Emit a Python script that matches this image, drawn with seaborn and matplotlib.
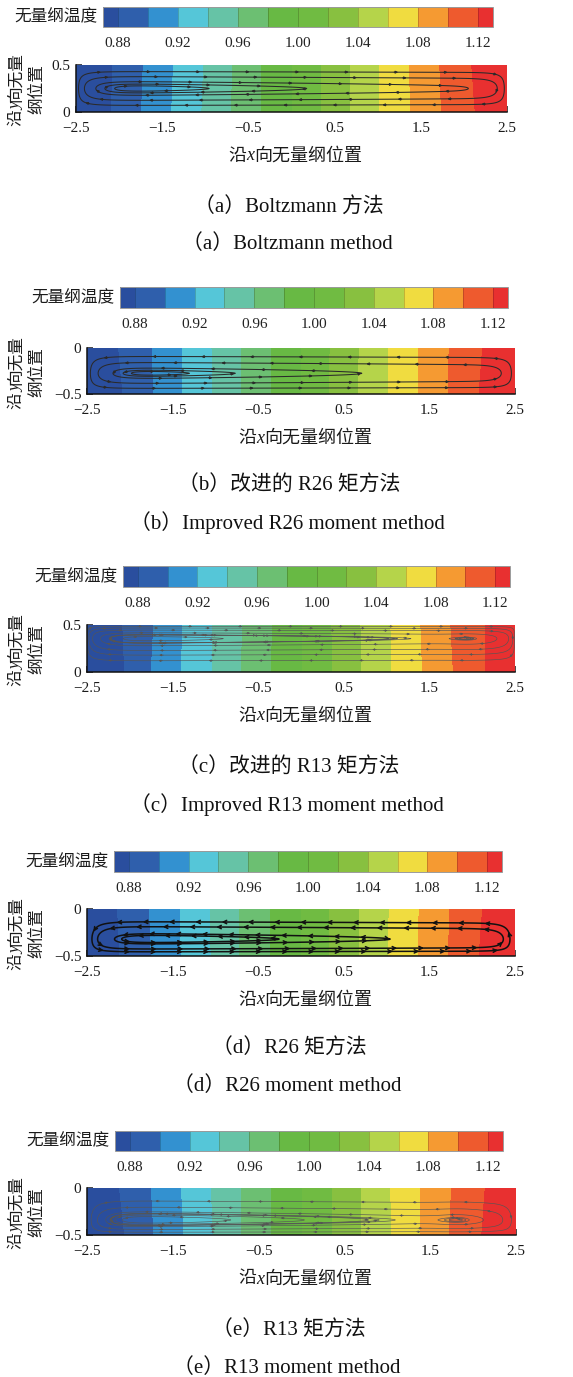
import numpy as np
import matplotlib
matplotlib.use("Agg")
import matplotlib.pyplot as plt
from matplotlib.colors import ListedColormap, BoundaryNorm
from matplotlib.cm import ScalarMappable
import seaborn as sns

sns.set_theme(style="white")
plt.rcParams["font.family"] = ["Liberation Serif", "Noto Sans CJK SC", "DejaVu Sans"]
plt.rcParams["axes.unicode_minus"] = True

CJK = ["Noto Sans CJK SC", "DejaVu Sans"]
SERIF = ["Liberation Serif", "DejaVu Serif"]

# ---------------- temperature scale ----------------
band_colors = ["#2a4e9e", "#2f5fac", "#3391d0", "#55c6d8", "#66c3a6", "#6cbf72",
               "#68b944", "#70bb42", "#88c040", "#b5d44a", "#f0dc40", "#f59a32",
               "#ee5a2e", "#e83030"]
band_bounds = [0.87, 0.88, 0.90, 0.92, 0.94, 0.96, 0.98, 1.00, 1.02, 1.04,
               1.06, 1.08, 1.10, 1.12, 1.13]
cbar_ticks = [0.88, 0.92, 0.96, 1.00, 1.04, 1.08, 1.12]
iso_levels = [0.88, 0.90, 0.92, 0.94, 0.96, 0.98, 1.00, 1.02, 1.04, 1.06, 1.08, 1.10, 1.12]
x_ticks = [-2.5, -1.5, -0.5, 0.5, 1.5, 2.5]
x_ticklabels = ["−2.5", "−1.5", "−0.5", "0.5", "1.5", "2.5"]

panels = ["a", "b", "c", "d", "e"]
y_limits = {"a": (0.0, 0.5), "b": (-0.5, 0.0), "c": (0.0, 0.5),
            "d": (-0.5, 0.0), "e": (-0.5, 0.0)}
y_ticks = {"a": [0, 0.5], "b": [-0.5, 0], "c": [0, 0.5], "d": [-0.5, 0], "e": [-0.5, 0]}
y_ticklabels = {"a": ["0", "0.5"], "b": ["−0.5", "0"], "c": ["0", "0.5"],
                "d": ["−0.5", "0"], "e": ["−0.5", "0"]}

# isotherm x positions (levels 0.88 ... 1.12) along the upper and lower edge
iso_upper = {
    "a": [-2.07, -1.72, -1.37, -1.02, -0.68, -0.35, 0.00, 0.34, 0.68, 1.02, 1.37, 1.72, 2.09],
    "b": [-2.13, -1.74, -1.39, -1.04, -0.70, -0.35, 0.00, 0.34, 0.68, 1.02, 1.37, 1.73, 2.12],
    "c": [-2.08, -1.72, -1.38, -1.03, -0.68, -0.33, 0.02, 0.36, 0.70, 1.05, 1.40, 1.75, 2.15],
    "d": [-2.14, -1.77, -1.41, -1.06, -0.72, -0.36, 0.00, 0.33, 0.68, 1.03, 1.38, 1.74, 2.12],
    "e": [-2.12, -1.75, -1.40, -1.05, -0.70, -0.35, 0.00, 0.35, 0.70, 1.04, 1.39, 1.75, 2.14],
}
iso_lower = {
    "a": [-2.09, -1.74, -1.39, -1.04, -0.70, -0.35, 0.00, 0.34, 0.68, 1.02, 1.38, 1.74, 2.13],
    "b": [-2.08, -1.72, -1.38, -1.03, -0.70, -0.35, 0.00, 0.33, 0.67, 1.02, 1.37, 1.72, 2.08],
    "c": [-2.06, -1.75, -1.40, -1.04, -0.70, -0.35, 0.02, 0.37, 0.71, 1.06, 1.42, 1.78, 2.16],
    "d": [-2.12, -1.75, -1.40, -1.05, -0.72, -0.36, 0.00, 0.33, 0.68, 1.02, 1.37, 1.72, 2.08],
    "e": [-2.06, -1.72, -1.37, -1.03, -0.70, -0.35, 0.00, 0.35, 0.70, 1.05, 1.39, 1.72, 2.10],
}

# ---------------- recirculation cell ----------------
# height of the vortex eye (fraction of the channel), streamwise decay of the cell strength
eye_height = {"a": 0.50, "b": 0.45, "c": 0.71, "d": 0.36, "e": 0.32}
cell_decay = {"a": 0.045, "b": 0.045, "c": 0.05, "d": 0.036, "e": 0.05}
cell_sense = {"a": -1, "b": 1, "c": -1, "d": 1, "e": 1}
right_eye = {"a": None, "b": None, "c": (2.0, 0.28, 0.06), "d": None, "e": (1.85, 0.28, 0.06)}
# y where each drawn streamline crosses the station x = -1.5
station_x = -1.5
crossings = {
    "a": [0.071, 0.125, 0.179, 0.205, 0.225],
    "b": [-0.438, -0.383, -0.328, -0.305, -0.29],
    "c": [0.12, 0.18, 0.23, 0.28, 0.31, 0.335],
    "d": [-0.455, -0.425, -0.37, -0.355],
    "e": [-0.47, -0.44, -0.41, -0.385, -0.37],
}
right_loops = {"c": [0.35, 0.65, 0.85], "e": [0.35, 0.65, 0.85]}
line_style = {
    "a": dict(color="#2a2a2a", lw=0.75, head=3.5, arrow="-|>", gap=48),
    "b": dict(color="#2a2a2a", lw=0.75, head=3.5, arrow="-|>", gap=48),
    "c": dict(color="#555555", lw=0.45, head=3.2, arrow="-|>", gap=50),
    "d": dict(color="#111111", lw=1.1, head=6.0, arrow="->", gap=26),
    "e": dict(color="#555555", lw=0.45, head=3.2, arrow="-|>", gap=50),
}

captions_cn = ["（a）Boltzmann 方法", "（b）改进的 R26 矩方法", "（c）改进的 R13 矩方法",
               "（d）R26 矩方法", "（e）R13 矩方法"]
captions_en = ["（a）Boltzmann method", "（b）Improved R26 moment method",
               "（c）Improved R13 moment method", "（d）R26 moment method",
               "（e）R13 moment method"]
xlabel_parts = [("沿", CJK, "normal"), ("x", SERIF, "italic"), ("向无量纲位置", CJK, "normal")]
ylabel_parts = [("沿", CJK, "normal"), ("y", SERIF, "italic"), ("向无量", CJK, "normal")]
ylabel_line2 = [("纲位置", CJK, "normal")]

# ---------------- page layout (pixels) ----------------
W, H = 573, 1377
layout = {
    "a": dict(cbar=(103, 493, 7, 27), ax=(76, 507, 65, 112), cap=(208, 244)),
    "b": dict(cbar=(120, 508, 287, 308), ax=(87, 515, 348, 394), cap=(486, 523)),
    "c": dict(cbar=(123, 510, 566, 587), ax=(87, 515, 625, 672), cap=(768, 805)),
    "d": dict(cbar=(114, 502, 851, 872), ax=(87, 515, 909, 956), cap=(1049, 1086)),
    "e": dict(cbar=(115, 503, 1131, 1151), ax=(87, 516, 1188, 1235), cap=(1331, 1368)),
}


def fbox(x0, x1, y0, y1):
    return [x0 / W, 1 - y1 / H, (x1 - x0) / W, (y1 - y0) / H]


fig = plt.figure(figsize=(W / 100, H / 100), dpi=100)
renderer = fig.canvas.get_renderer()


def text_run(parts, cx, cy, size, vertical=False, color="#1a1a1a"):
    """Write a run of differently styled pieces centred on (cx, cy) in pixels."""
    widths = []
    for txt, fam, sty in parts:
        t = fig.text(0, 0, txt, fontsize=size, family=fam, style=sty)
        widths.append(t.get_window_extent(renderer).width)
        t.remove()
    total = sum(widths)
    off = 0.36 * size * 100 / 72
    pos = 0.0
    for (txt, fam, sty), w in zip(parts, widths):
        if vertical:
            fx = (cx + off) / W
            fy = 1 - (cy + total / 2 - pos) / H
            fig.text(fx, fy, txt, fontsize=size, family=fam, style=sty, color=color,
                     rotation=90, rotation_mode="anchor", ha="left", va="baseline")
        else:
            fx = (cx - total / 2 + pos) / W
            fy = 1 - (cy + off) / H
            fig.text(fx, fy, txt, fontsize=size, family=fam, style=sty, color=color,
                     ha="left", va="baseline")
        pos += w


def add_flow_arrows(ax, path_xy, xg, yg, u, v, st):
    """Place small arrowheads along a streamline, oriented with the flow."""
    disp = ax.transData.transform(path_xy)
    seg = np.hypot(*np.diff(disp, axis=0).T)
    cum = np.r_[0, np.cumsum(seg)]
    total = cum[-1]
    if total < 25:
        return
    n = max(1, int(total // st["gap"]))
    targets = (np.arange(n) + 0.5) * total / n
    for t in targets:
        pa = np.array([np.interp(t - 2.0, cum, path_xy[:, 0]), np.interp(t - 2.0, cum, path_xy[:, 1])])
        pb = np.array([np.interp(t + 2.0, cum, path_xy[:, 0]), np.interp(t + 2.0, cum, path_xy[:, 1])])
        ix = int(np.argmin(np.abs(xg - pa[0])))
        iy = int(np.argmin(np.abs(yg - pa[1])))
        vel = np.array([u[iy, ix], v[iy, ix]])
        if np.dot(pb - pa, vel) < 0:
            pa, pb = pb, pa
        ax.annotate("", xy=pb, xytext=pa,
                    arrowprops=dict(arrowstyle=st["arrow"], color=st["color"],
                                    lw=st["lw"], mutation_scale=st["head"],
                                    shrinkA=0, shrinkB=0),
                    zorder=4, annotation_clip=False)


cmap = ListedColormap(sns.color_palette(band_colors))
norm = BoundaryNorm(band_bounds, cmap.N)

xg = np.linspace(-2.5, 2.5, 601)

for i, key in enumerate(panels):
    lay = layout[key]
    y0, y1 = y_limits[key]
    hgt = y1 - y0
    yg = np.linspace(y0, y1, 201)

    # temperature field from isotherm positions
    up = np.array(iso_upper[key])
    lo = np.array(iso_lower[key])
    T = np.empty((yg.size, xg.size))
    for j, yy in enumerate(yg):
        f = (yy - y0) / hgt
        pos = lo + f * (up - lo)
        T[j] = np.interp(xg, np.r_[-2.5, pos, 2.5], np.r_[0.8705, iso_levels, 1.1295])

    # colour bar
    cax = fig.add_axes(fbox(*lay["cbar"]))
    cb = fig.colorbar(ScalarMappable(norm=norm, cmap=cmap), cax=cax,
                      orientation="horizontal", spacing="proportional",
                      ticks=cbar_ticks, drawedges=True)
    cb.ax.minorticks_off()
    cb.ax.set_xticks(cbar_ticks)
    cb.ax.set_xticklabels([f"{t:.2f}" for t in cbar_ticks])
    cb.ax.tick_params(which="both", length=0, width=0, pad=7, labelsize=11,
                      colors="#222222")
    cb.outline.set_edgecolor("#9a9a9a")
    cb.outline.set_linewidth(0.7)
    cb.dividers.set_color((0, 0, 0, 0.22))
    cb.dividers.set_linewidth(0.6)
    cx0, cx1, cy0, cy1 = lay["cbar"]
    fig.text((cx0 - 6) / W, 1 - (cy0 + cy1) / 2 / H, "无量纲温度", ha="right",
             va="center", fontsize=12, family=CJK, color="#1a1a1a")

    # field plot
    ax = fig.add_axes(fbox(*lay["ax"]))
    ax.contourf(xg, yg, T, levels=band_bounds, cmap=cmap, norm=norm, zorder=1)
    ax.set_xlim(-2.5, 2.5)
    ax.set_ylim(y0, y1)

    # stream function of the recirculation cell
    s = np.clip((yg - y0) / hgt, 1e-9, 1.0)
    p = np.log(0.5) / np.log(eye_height[key])
    g = np.sin(np.pi * s ** p) ** 2
    k = cell_decay[key]
    E = (1 - np.exp(-(xg + 2.5) / 0.15)) * (1 - np.exp(-(2.5 - xg) / 0.12)) * (1 - k * (xg + 2.5))
    if right_eye[key] is not None:
        xb, wb, ab = right_eye[key]
        E = E + ab * np.exp(-((xg - xb) / wb) ** 2) * (1 - np.exp(-(2.5 - xg) / 0.12))
    E = E / E.max()
    psi = E[None, :] * g[:, None]
    u = cell_sense[key] * np.gradient(psi, yg, axis=0)
    v = -cell_sense[key] * np.gradient(psi, xg, axis=1)

    e_st = np.interp(station_x, xg, E)
    levels = [e_st * float(np.interp(yc, yg, g)) for yc in crossings[key]]
    if key in right_loops:
        xb = right_eye[key][0]
        sel = (xg > xb - 0.6) & (xg < xb + 0.4)
        emax = E[sel].max()
        emin = E[(xg > 0.0) & (xg < xb)].min()
        levels += [emin + fr * (emax - emin) for fr in right_loops[key]]
    levels = sorted(set(round(lv, 5) for lv in levels))

    st = line_style[key]
    cs = ax.contour(xg, yg, psi, levels=levels, colors=st["color"],
                    linewidths=st["lw"], zorder=3)
    for path in cs.get_paths():
        for poly in path.to_polygons(closed_only=False):
            if len(poly) > 3:
                add_flow_arrows(ax, poly, xg, yg, u, v, st)

    ax.set_xticks(x_ticks)
    ax.set_yticks(y_ticks[key])
    ax.set_xticklabels(x_ticklabels)
    ax.set_yticklabels(y_ticklabels[key])
    ax.tick_params(axis="x", direction="in", length=4, width=1.1, pad=7,
                   labelsize=11, colors="#1a1a1a", bottom=True, top=False)
    ax.tick_params(axis="y", direction="in", length=4, width=1.1, pad=4,
                   labelsize=11, colors="#1a1a1a", left=True, right=False)
    for side in ("top", "right"):
        ax.spines[side].set_visible(False)
    for side in ("left", "bottom"):
        ax.spines[side].set_visible(True)
        ax.spines[side].set_color("#111111")
        ax.spines[side].set_linewidth(1.1)
        ax.spines[side].set_zorder(5)

    ax0, ax1, ay0, ay1 = lay["ax"]
    text_run(xlabel_parts, (ax0 + ax1) / 2 + 4, ay1 + 42, 13)
    text_run(ylabel_parts, 14, (ay0 + ay1) / 2 + 1, 12, vertical=True)
    text_run(ylabel_line2, 35, (ay0 + ay1) / 2 + 1, 12, vertical=True)

    c1, c2 = lay["cap"]
    fig.text(289 / W, 1 - c1 / H, captions_cn[i], ha="center", va="center",
             fontsize=15, color="#111111")
    fig.text(287 / W, 1 - c2 / H, captions_en[i], ha="center", va="center",
             fontsize=15, color="#111111")

fig.savefig("out.png", dpi=100)
